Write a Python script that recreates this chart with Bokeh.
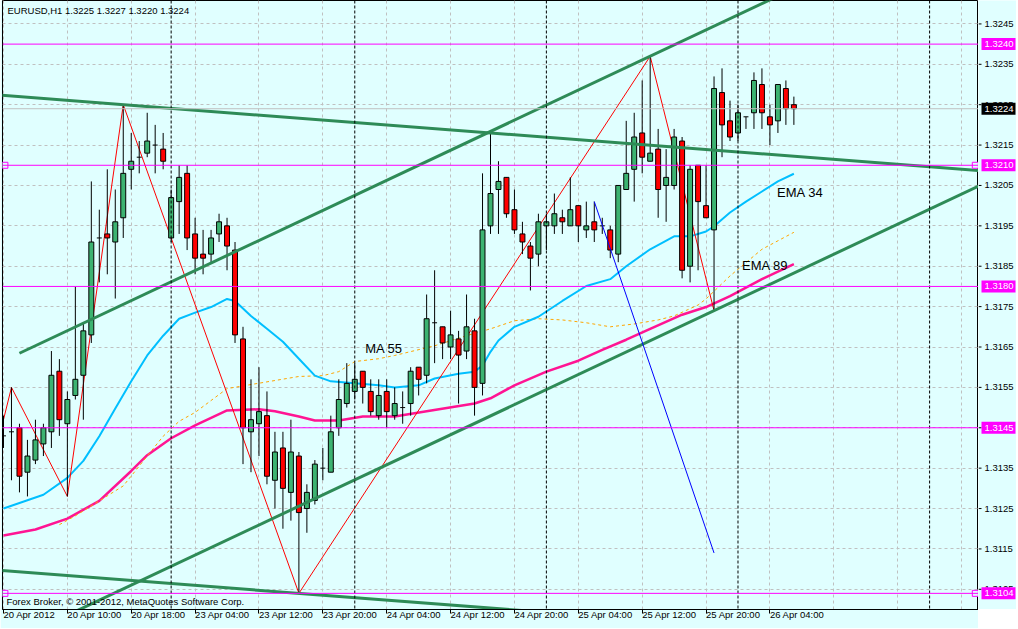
from bokeh.plotting import figure
from bokeh.layouts import row
from bokeh.models import Range1d, FixedTicker, Label, Span
from bokeh.embed import file_html
from bokeh.resources import INLINE
from bokeh.core.properties import value

# ---------------- data ----------------
symbol_title = "EURUSD,H1  1.3225 1.3227 1.3220 1.3224"
copyright_text = "Forex Broker, \u00a9 2001-2012, MetaQuotes Software Corp."

opens = [1.3143, 1.3144, 1.3145, 1.3134, 1.3137, 1.3141, 1.3144, 1.3159, 1.3146, 1.3153,
         1.3158, 1.3168, 1.3192, 1.3193, 1.3191, 1.3197, 1.3209, 1.3212, 1.3213, 1.3215,
         1.3214, 1.3192, 1.3201, 1.3208, 1.3193, 1.3188, 1.3188, 1.3193, 1.3195, 1.3189,
         1.3167, 1.3144, 1.3146, 1.3148, 1.3132, 1.3140, 1.3129, 1.3138, 1.3125, 1.3127,
         1.3135, 1.3134, 1.3145, 1.3151, 1.3154, 1.3159, 1.3154, 1.3148, 1.3154, 1.3148,
         1.3150, 1.3151, 1.3160, 1.3158, 1.3171, 1.3170, 1.3165, 1.3167, 1.3164, 1.3169,
         1.3156, 1.3195, 1.3204, 1.3207, 1.3199, 1.3193, 1.3190, 1.3188, 1.3195, 1.3195,
         1.3197, 1.3195, 1.3200, 1.3194, 1.3196, 1.3195, 1.3194, 1.3188, 1.3204, 1.3209,
         1.3218, 1.3211, 1.3214, 1.3205, 1.3205, 1.3216, 1.3185, 1.3210, 1.3200, 1.3194,
         1.3228, 1.3221, 1.3218, 1.3222, 1.3223, 1.3230, 1.3222, 1.3221, 1.3229, 1.3225]
highs = [1.3148, 1.3155, 1.3146, 1.3142, 1.3147, 1.3146, 1.3164, 1.3162, 1.3154, 1.3180,
         1.3171, 1.3206, 1.3199, 1.3209, 1.3204, 1.3225, 1.3218, 1.3216, 1.3223, 1.3220,
         1.3218, 1.3204, 1.3210, 1.3210, 1.3197, 1.3194, 1.3194, 1.3198, 1.3197, 1.3191,
         1.3170, 1.3157, 1.3160, 1.3154, 1.3144, 1.3144, 1.3147, 1.3139, 1.3131, 1.3137,
         1.3140, 1.3148, 1.3157, 1.3161, 1.3161, 1.3159, 1.3157, 1.3157, 1.3157, 1.3155,
         1.3154, 1.3160, 1.3160, 1.3178, 1.3184, 1.3170, 1.3174, 1.3169, 1.3178, 1.3172,
         1.3208, 1.3218, 1.3211, 1.3207, 1.3204, 1.3196, 1.3191, 1.3198, 1.3198, 1.3203,
         1.3199, 1.3207, 1.3200, 1.3201, 1.3201, 1.3197, 1.3195, 1.3205, 1.3221, 1.3223,
         1.3231, 1.3237, 1.3219, 1.3214, 1.3219, 1.3217, 1.3210, 1.3210, 1.3210, 1.3232,
         1.3234, 1.3226, 1.3225, 1.3222, 1.3233, 1.3234, 1.3225, 1.3230, 1.3231, 1.3227]
lows = [1.3140, 1.3132, 1.3129, 1.3128, 1.3136, 1.3138, 1.3140, 1.3143, 1.3128, 1.3152,
        1.3147, 1.3166, 1.3181, 1.3183, 1.3177, 1.3192, 1.3204, 1.3208, 1.3212, 1.3208,
        1.3209, 1.3191, 1.3193, 1.3189, 1.3183, 1.3183, 1.3186, 1.3191, 1.3184, 1.3166,
        1.3136, 1.3134, 1.3138, 1.3131, 1.3125, 1.3120, 1.3122, 1.3104, 1.3119, 1.3126,
        1.3132, 1.3134, 1.3143, 1.3150, 1.3152, 1.3151, 1.3148, 1.3147, 1.3145, 1.3147,
        1.3146, 1.3148, 1.3153, 1.3156, 1.3161, 1.3162, 1.3162, 1.3151, 1.3162, 1.3148,
        1.3153, 1.3193, 1.3193, 1.3197, 1.3193, 1.3188, 1.3179, 1.3185, 1.3189, 1.3193,
        1.3193, 1.3195, 1.3191, 1.3192, 1.3191, 1.3193, 1.3187, 1.3186, 1.3204, 1.3201,
        1.3208, 1.3211, 1.3197, 1.3196, 1.3204, 1.3182, 1.3181, 1.3184, 1.3197, 1.3174,
        1.3212, 1.3216, 1.3216, 1.3219, 1.3219, 1.3219, 1.3215, 1.3218, 1.3220, 1.3220]
closes = [1.3143, 1.3144, 1.3133, 1.3138, 1.3142, 1.3145, 1.3158, 1.3147, 1.3152, 1.3157,
          1.3169, 1.3191, 1.3192, 1.3192, 1.3196, 1.3208, 1.3211, 1.3212, 1.3216, 1.3215,
          1.3211, 1.3202, 1.3207, 1.3192, 1.3187, 1.3187, 1.3192, 1.3196, 1.3190, 1.3168,
          1.3145, 1.3147, 1.3149, 1.3133, 1.3139, 1.3130, 1.3139, 1.3124, 1.3129, 1.3136,
          1.3135, 1.3144, 1.3152, 1.3156, 1.3157, 1.3155, 1.3149, 1.3153, 1.3149, 1.3151,
          1.3150, 1.3159, 1.3157, 1.3172, 1.3171, 1.3166, 1.3168, 1.3163, 1.3170, 1.3155,
          1.3194, 1.3203, 1.3206, 1.3198, 1.3194, 1.3191, 1.3187, 1.3196, 1.3196, 1.3198,
          1.3196, 1.3199, 1.3195, 1.3195, 1.3194, 1.3195, 1.3189, 1.3205, 1.3208, 1.3217,
          1.3212, 1.3213, 1.3204, 1.3207, 1.3217, 1.3184, 1.3209, 1.3201, 1.3197, 1.3229,
          1.3220, 1.3217, 1.3223, 1.3222, 1.3231, 1.3223, 1.3220, 1.3230, 1.3224, 1.3224]

date_tick_bars = [0, 8, 16, 24, 32, 40, 48, 56, 64, 72, 80, 88, 96]
date_tick_labels = ["20 Apr 2012", "20 Apr 10:00", "20 Apr 18:00", "23 Apr 04:00",
                    "23 Apr 12:00", "23 Apr 20:00", "24 Apr 04:00", "24 Apr 12:00",
                    "24 Apr 20:00", "25 Apr 04:00", "25 Apr 12:00", "25 Apr 20:00",
                    "26 Apr 04:00"]
grid_bars = [0, 8, 16, 24, 32, 40, 48, 56, 64, 72, 80, 88, 96, 104, 112, 120]
separator_bars = [21, 44, 68, 92, 116]
price_ticks = [1.3105, 1.3115, 1.3125, 1.3135, 1.3145, 1.3155, 1.3165, 1.3175,
               1.3185, 1.3195, 1.3205, 1.3215, 1.3225, 1.3235, 1.3245]
price_tick_labels = ["1.3105", "1.3115", "1.3125", "1.3135", "1.3145", "1.3155", "1.3165",
                     "1.3175", "1.3185", "1.3195", "1.3205", "1.3215", "1.3225", "1.3235",
                     "1.3245"]

ema34_bars = [0, 5, 8, 10, 12, 14, 16, 18, 20, 22, 24, 26, 28, 29, 31, 33, 35, 37, 39, 41,
              44, 47, 49, 52, 54, 57, 59, 60, 61, 62, 64, 67, 70, 73, 76, 78, 81, 84, 86, 88,
              89, 91, 93, 95, 97, 99]
ema34_vals = [1.31250, 1.31284, 1.31326, 1.31368, 1.31429, 1.31498, 1.31565, 1.31629, 1.31678, 1.31720,
              1.31735, 1.31749, 1.31769, 1.31764, 1.31727, 1.31695, 1.31663, 1.31621, 1.31579, 1.31565,
              1.31560, 1.31555, 1.31550, 1.31555, 1.31572, 1.31584, 1.31589, 1.31604, 1.31638, 1.31666,
              1.31700, 1.31725, 1.31764, 1.31801, 1.31818, 1.31850, 1.31892, 1.31924, 1.31924, 1.31936,
              1.31949, 1.31983, 1.32010, 1.32035, 1.32060, 1.32079]

ema89_bars = [0, 4, 8, 12, 16, 18, 21, 24, 28, 32, 34, 37, 39, 42, 45, 49, 53, 59, 61, 64,
              68, 72, 75, 78, 81, 85, 88, 91, 95, 99]
ema89_vals = [1.31183, 1.31198, 1.31225, 1.31269, 1.31343, 1.31382, 1.31424, 1.31456, 1.31493, 1.31496,
              1.31491, 1.31478, 1.31468, 1.31468, 1.31478, 1.31478, 1.31491, 1.31510, 1.31523, 1.31555,
              1.31589, 1.31616, 1.31643, 1.31668, 1.31695, 1.31730, 1.31749, 1.31776, 1.31818, 1.31855]

ma55_bars = [7, 9, 12, 15, 20, 22, 24, 28, 31, 34, 37, 40, 42, 44, 47, 49, 54, 58, 61, 64,
             67, 70, 73, 76, 79, 82, 84, 87, 88, 91, 95, 99]
ma55_vals = [1.31210, 1.31232, 1.31269, 1.31306, 1.31429, 1.31466, 1.31488, 1.31547, 1.31557, 1.31567,
             1.31577, 1.31579, 1.31589, 1.31614, 1.31621, 1.31629, 1.31653, 1.31678, 1.31695, 1.31715,
             1.31720, 1.31717, 1.31710, 1.31700, 1.31707, 1.31717, 1.31727, 1.31754, 1.31769, 1.31826,
             1.31892, 1.31934]

zigzag_bars = [0, 1, 8, 15, 37, 81, 89]
zigzag_vals = [1.3147, 1.3155, 1.3128, 1.3225, 1.3104, 1.3237, 1.3174]

blue_bars = [74, 89]
blue_vals = [1.3201, 1.3114]

desc_slope = -0.0000152
asc_slope = 0.0000931
trend_anchor_bars = [15, 37, 81, 89]
trend_anchor_vals = [1.3225, 1.3104, 1.3237, 1.3174]
trend_slopes = [desc_slope, desc_slope, asc_slope, asc_slope]
trend_start_bars = [-5, -5, 2, -5]

magenta_levels = [1.3240, 1.3210, 1.3180, 1.3145, 1.3104]
magenta_labels = ["1.3240", "1.3210", "1.3180", "1.3145", "1.3104"]
selected_levels = [1.3210, 1.3104]
bid_price = 1.3224
bid_label = "1.3224"

note_texts = ["MA 55", "EMA 34", "EMA 89"]
note_bars = [45.3, 96.9, 92.5]
note_vals = [1.31646, 1.32033, 1.31851]

# ---------------- styles ----------------
BG = "#E0FFFF"
GRID = "#C0C0C0"
BULL = "#3CB371"
BEAR = "#FF0000"
TREND = "#2E8B57"
MAGENTA = "#FF00FF"
UI_FONT = "Liberation Sans"
UI_SIZE = "9.5px"

x_lo, x_hi = -0.125, 122.125
y_lo, y_hi = 1.3100, 1.32508
FRAME_W = 976
FRAME_H = 609
SIDE_W = 38

p = figure(frame_width=FRAME_W, frame_height=FRAME_H, output_backend="svg", toolbar_location=None,
           x_range=Range1d(x_lo, x_hi), y_range=Range1d(y_lo, y_hi),
           x_axis_location="below", y_axis_location=None,
           min_border_left=2, min_border_top=0, min_border_right=0, min_border_bottom=0)
p.background_fill_color = BG
p.border_fill_color = BG
p.outline_line_color = "black"
p.outline_line_width = 1

# bottom axis: ticks with left-aligned date labels
xa = p.xaxis[0]
xa.ticker = FixedTicker(ticks=date_tick_bars)
xa.major_label_overrides = {b: t for b, t in zip(date_tick_bars, date_tick_labels)}
xa.major_label_orientation = -0.0001
xa.major_label_text_font = UI_FONT
xa.major_label_text_font_size = UI_SIZE
xa.major_label_text_color = "black"
xa.major_label_standoff = 1
xa.major_tick_out = 4
xa.major_tick_in = 0
xa.minor_tick_out = 0
xa.minor_tick_in = 0
xa.axis_line_color = "black"
xa.major_tick_line_color = "black"

# grid
p.xgrid.ticker = FixedTicker(ticks=grid_bars)
p.xgrid.grid_line_color = GRID
p.xgrid.grid_line_dash = "3 3"
p.ygrid.ticker = FixedTicker(ticks=price_ticks)
p.ygrid.grid_line_color = GRID
p.ygrid.grid_line_dash = "3 3"

for b in separator_bars:
    p.add_layout(Span(location=b, dimension="height", line_color="black",
                      line_dash="3 2", line_width=1))

p.add_layout(Span(location=bid_price, dimension="width", line_color="#C0C0C0", line_width=1))
for lv in magenta_levels:
    p.add_layout(Span(location=lv, dimension="width", line_color=MAGENTA, line_width=1))

# indicators
p.line(ema89_bars, ema89_vals, line_color="#FF1493", line_width=2.5)
p.line(ma55_bars, ma55_vals, line_color="#FFA500", line_width=1, line_dash="3 3")
p.line(ema34_bars, ema34_vals, line_color="#00BFFF", line_width=2)
p.line(zigzag_bars, zigzag_vals, line_color="#FF0000", line_width=1)

# candles
n = len(opens)
idx = list(range(n))
p.segment(x0=idx, y0=lows, x1=idx, y1=highs, line_color="black", line_width=1)
up = [i for i in idx if closes[i] > opens[i]]
dn = [i for i in idx if closes[i] < opens[i]]
dj = [i for i in idx if closes[i] == opens[i]]
p.vbar(x=up, width=0.62, bottom=[opens[i] for i in up], top=[closes[i] for i in up],
       fill_color=BULL, line_color="black", line_width=1)
p.vbar(x=dn, width=0.62, bottom=[closes[i] for i in dn], top=[opens[i] for i in dn],
       fill_color=BEAR, line_color="black", line_width=1)
p.segment(x0=[i - 0.31 for i in dj], y0=[opens[i] for i in dj],
          x1=[i + 0.31 for i in dj], y1=[opens[i] for i in dj],
          line_color="black", line_width=1)

# trend lines
for ab, av, sl, sb in zip(trend_anchor_bars, trend_anchor_vals, trend_slopes, trend_start_bars):
    xe = 130
    p.line([sb, xe], [av + (sb - ab) * sl, av + (xe - ab) * sl],
           line_color=TREND, line_width=3)

p.line(blue_bars, blue_vals, line_color="#0000FF", line_width=1)

hx, hy = [], []
for lv in selected_levels:
    hx += [x_lo + 0.3, x_hi - 0.4]
    hy += [lv, lv]
p.scatter(hx, hy, marker="square", size=6, fill_color=BG, line_color=MAGENTA, line_width=1)

p.text(x=note_bars, y=note_vals, text=note_texts, text_font=value(UI_FONT),
       text_font_size="13px", text_color="black", text_align="left", text_baseline="middle")

p.add_layout(Label(x=x_lo, y=y_hi, x_offset=5, y_offset=-10, text=symbol_title,
                   text_font=UI_FONT, text_font_size=UI_SIZE, text_color="black",
                   text_baseline="middle", text_align="left"))
p.add_layout(Label(x=x_lo, y=y_lo, x_offset=4, y_offset=8, text=copyright_text,
                   text_font=UI_FONT, text_font_size=UI_SIZE, text_color="black",
                   text_baseline="middle", text_align="left"))

# ---------------- price scale column ----------------
s = figure(frame_width=SIDE_W, frame_height=FRAME_H, output_backend="svg", toolbar_location=None,
           x_range=Range1d(0, SIDE_W), y_range=p.y_range,
           x_axis_location=None, y_axis_location=None,
           min_border_left=0, min_border_top=0, min_border_right=0, min_border_bottom=0)
s.background_fill_color = BG
s.border_fill_color = BG
s.outline_line_color = None
s.xgrid.visible = False
s.ygrid.visible = False

s.segment(x0=[0] * len(price_ticks), y0=price_ticks, x1=[3] * len(price_ticks), y1=price_ticks,
          line_color="black", line_width=1)
s.text(x=[6] * len(price_ticks), y=price_ticks, text=price_tick_labels,
       text_font=value(UI_FONT), text_font_size=UI_SIZE, text_color="black",
       text_align="left", text_baseline="middle")

box_levels = magenta_levels + [bid_price]
box_texts = magenta_labels + [bid_label]
box_colors = [MAGENTA] * len(magenta_levels) + ["black"]
s.rect(x=[20] * len(box_levels), y=box_levels, width=[34] * len(box_levels),
       height=12, height_units="screen", fill_color=box_colors, line_color=None)
s.text(x=[6] * len(box_levels), y=box_levels, text=box_texts,
       text_font=value(UI_FONT), text_font_size=UI_SIZE, text_color="white",
       text_align="left", text_baseline="middle")

layout = row(p, s)
open("out.html", "w").write(file_html(layout, INLINE))
